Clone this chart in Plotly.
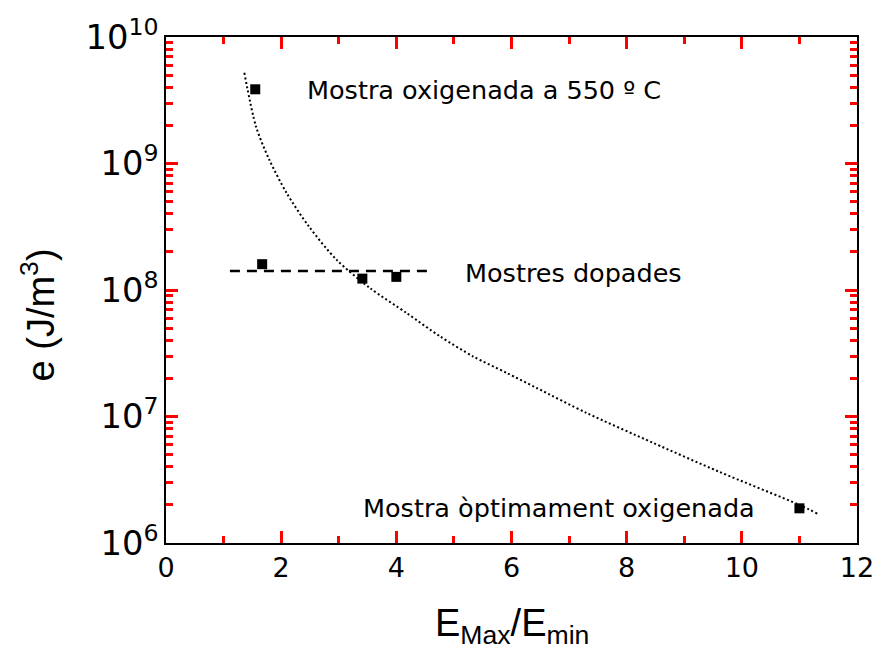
import plotly.graph_objects as go

# Measured samples
sample_x = [1.55, 1.67, 3.41, 4.0, 11.0]
sample_e = [3.86e9, 1.60e8, 1.23e8, 1.27e8, 1.88e6]

# Dashed reference line ("Mostres dopades")
doped_x = [1.11, 4.57]
doped_e = [1.41e8, 1.41e8]

# Dotted fit curve
fit_x = [1.36, 1.563, 1.794, 2.096, 2.483, 2.964, 3.543, 4.18, 4.758, 5.337,
         5.917, 6.438, 7.306, 8.463, 9.592, 10.99, 11.31]
fit_e = [5.22e9, 1.96e9, 1.07e9, 5.83e8, 3.17e8, 1.73e8, 1.035e8, 6.57e7, 4.30e7,
         2.98e7, 2.21e7, 1.68e7, 1.066e7, 6.18e6, 3.68e6, 2.01e6, 1.71e6]

labels = ["Mostra oxigenada a 550 º C", "Mostres dopades", "Mostra òptimament oxigenada"]

TICKFONT = dict(family="DejaVu Sans", size=27, color="black")
ANNFONT = dict(family="DejaVu Sans", size=25.5, color="black")
TITLEFONT = dict(family="Liberation Sans, Arial", size=38, color="black")
TICKCOLOR = "red"

fig = go.Figure()
fig.add_trace(go.Scatter(x=fit_x, y=fit_e, mode="lines",
                         line=dict(color="black", width=2, dash="2px,2.5px",
                                   shape="spline", smoothing=0.8),
                         showlegend=False, hoverinfo="skip"))
fig.add_trace(go.Scatter(x=doped_x, y=doped_e, mode="lines",
                         line=dict(color="black", width=2.5, dash="10px,7px"),
                         showlegend=False))
fig.add_trace(go.Scatter(x=sample_x, y=sample_e, mode="markers",
                         marker=dict(symbol="square", size=10, color="black"),
                         showlegend=False))

fig.update_layout(
    width=876, height=659,
    margin=dict(l=166, r=19, t=37, b=115.5, autoexpand=False),
    paper_bgcolor="white", plot_bgcolor="white",
)
fig.update_xaxes(
    range=[0, 12], dtick=2,
    showline=True, linecolor="black", linewidth=2, mirror="ticks",
    ticks="inside", ticklen=12, tickwidth=3, tickcolor=TICKCOLOR,
    minor=dict(dtick=1, ticks="inside", ticklen=7, tickwidth=3, tickcolor=TICKCOLOR),
    showgrid=False, zeroline=False, tickfont=TICKFONT,
)
fig.update_yaxes(
    type="log", range=[6, 10], dtick=1, exponentformat="power",
    showline=True, linecolor="black", linewidth=2, mirror="ticks",
    ticks="inside", ticklen=12, tickwidth=3, tickcolor=TICKCOLOR,
    minor=dict(dtick="D1", ticks="inside", ticklen=7, tickwidth=3, tickcolor=TICKCOLOR),
    showgrid=False, zeroline=False, tickfont=TICKFONT,
)

fig.add_annotation(x=2.414, y=9.581, text=labels[0], showarrow=False,
                   xanchor="left", yanchor="middle", font=ANNFONT)
fig.add_annotation(x=5.16, y=8.136, text=labels[1], showarrow=False,
                   xanchor="left", yanchor="middle", font=ANNFONT)
fig.add_annotation(x=10.26, y=6.28, text=labels[2], showarrow=False,
                   xanchor="right", yanchor="middle", font=ANNFONT)

fig.add_annotation(xref="paper", yref="paper", x=0.5, y=-0.165,
                   text="E<sub>Max</sub>/E<sub>min</sub>", showarrow=False,
                   xanchor="center", yanchor="middle", font=TITLEFONT)
fig.add_annotation(xref="paper", yref="paper", x=-0.185, y=0.45,
                   text="e (J/m<sup>3</sup>)", showarrow=False, textangle=-90,
                   xanchor="center", yanchor="middle", font=TITLEFONT)

fig.write_html("out.html", config={"displayModeBar": False},
               post_script="document.body.style.margin='0';document.body.style.overflow='hidden';")
